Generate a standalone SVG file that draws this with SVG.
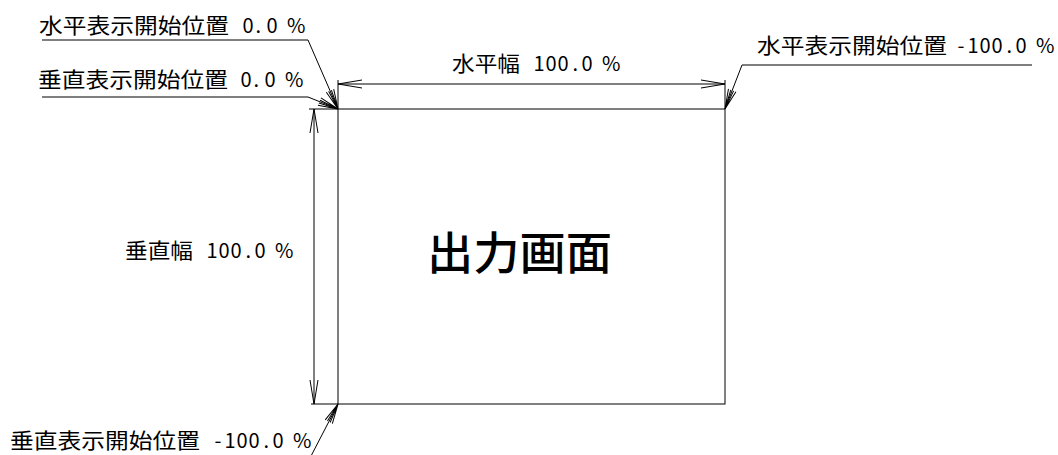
<svg xmlns="http://www.w3.org/2000/svg" width="1058" height="455" viewBox="0 0 1058 455">
<style>
.ln{stroke:#000;stroke-width:1;fill:none}
.t{font-family:"Noto Sans CJK JP","Noto Sans CJK SC",sans-serif;font-size:21px;fill:#000}
.n{font-size:20px}
.big{font-family:"Noto Sans CJK JP","Noto Sans CJK SC",sans-serif;font-size:45px;font-weight:500;fill:#000}
</style>
<defs>
<marker id="dim" markerUnits="userSpaceOnUse" markerWidth="30" markerHeight="30" refX="0" refY="0" orient="auto-start-reverse" style="overflow:visible">
<path d="M-24,-4 L0,0 L-24,4" stroke="#000" stroke-width="1" fill="none"/>
</marker>
<marker id="fan" markerUnits="userSpaceOnUse" markerWidth="30" markerHeight="30" refX="0" refY="0" orient="auto" style="overflow:visible">
<path d="M-20,-4 L0,0 M-20,-1.5 L0,0 M-20,1.5 L0,0 M-20,4 L0,0" stroke="#000" stroke-width="1" fill="none"/>
</marker>
</defs>
<g id="screen">
<rect x="338" y="109" width="387" height="295" class="ln"/>
<text class="big" x="427" y="270" textLength="185" lengthAdjust="spacingAndGlyphs">出力画面</text>
</g>
<g id="connectors">
<line class="ln" x1="338" y1="80" x2="338" y2="109"/>
<line class="ln" x1="725" y1="80" x2="725" y2="109"/>
<line class="ln" x1="338" y1="84" x2="725" y2="84" marker-start="url(#dim)" marker-end="url(#dim)"/>
<line class="ln" x1="309" y1="109" x2="338" y2="109"/>
<line class="ln" x1="311" y1="404" x2="338" y2="404"/>
<line class="ln" x1="314" y1="109" x2="314" y2="404" marker-start="url(#dim)" marker-end="url(#dim)"/>
<polyline class="ln" points="42,40 308,40 338,109" marker-end="url(#fan)"/>
<polyline class="ln" points="42,97 308,97 338,109" marker-end="url(#fan)"/>
<polyline class="ln" points="1032,65 742,65 725,109" marker-end="url(#fan)"/>
<line class="ln" x1="310" y1="458" x2="338" y2="404" marker-end="url(#fan)"/>
</g>
<g id="label-h-start">
<text class="t" y="33"><tspan x="39" textLength="190" lengthAdjust="spacingAndGlyphs">水平表示開始位置</tspan><tspan class="n" x="242.5 255.5 266.5 278 287">0.0 %</tspan></text>
</g>
<g id="label-v-start">
<text class="t" y="87"><tspan x="38" textLength="190" lengthAdjust="spacingAndGlyphs">垂直表示開始位置</tspan><tspan class="n" x="240.5 253.5 264.5 276 285">0.0 %</tspan></text>
</g>
<g id="label-h-end">
<text class="t" y="53"><tspan x="757" textLength="190" lengthAdjust="spacingAndGlyphs">水平表示開始位置</tspan><tspan class="n" x="945 957.5 967.5 979.5 991.5 1006.5 1015.5 1027 1036"> -100.0 %</tspan></text>
</g>
<g id="label-v-end">
<text class="t" y="448"><tspan x="10" textLength="190" lengthAdjust="spacingAndGlyphs">垂直表示開始位置</tspan><tspan class="n" x="202 214.5 224.5 236.5 248.5 263.5 272.5 284 293"> -100.0 %</tspan></text>
</g>
<g id="label-h-width">
<text class="t" y="71"><tspan x="452" textLength="68" lengthAdjust="spacingAndGlyphs">水平幅</tspan><tspan class="n" x="521 533.5 545.5 557.5 572.5 581.5 593 602"> 100.0 %</tspan></text>
</g>
<g id="label-v-width">
<text class="t" y="258"><tspan x="125" textLength="68" lengthAdjust="spacingAndGlyphs">垂直幅</tspan><tspan class="n" x="194 206.5 218.5 230.5 245.5 254.5 266 275"> 100.0 %</tspan></text>
</g>
</svg>
